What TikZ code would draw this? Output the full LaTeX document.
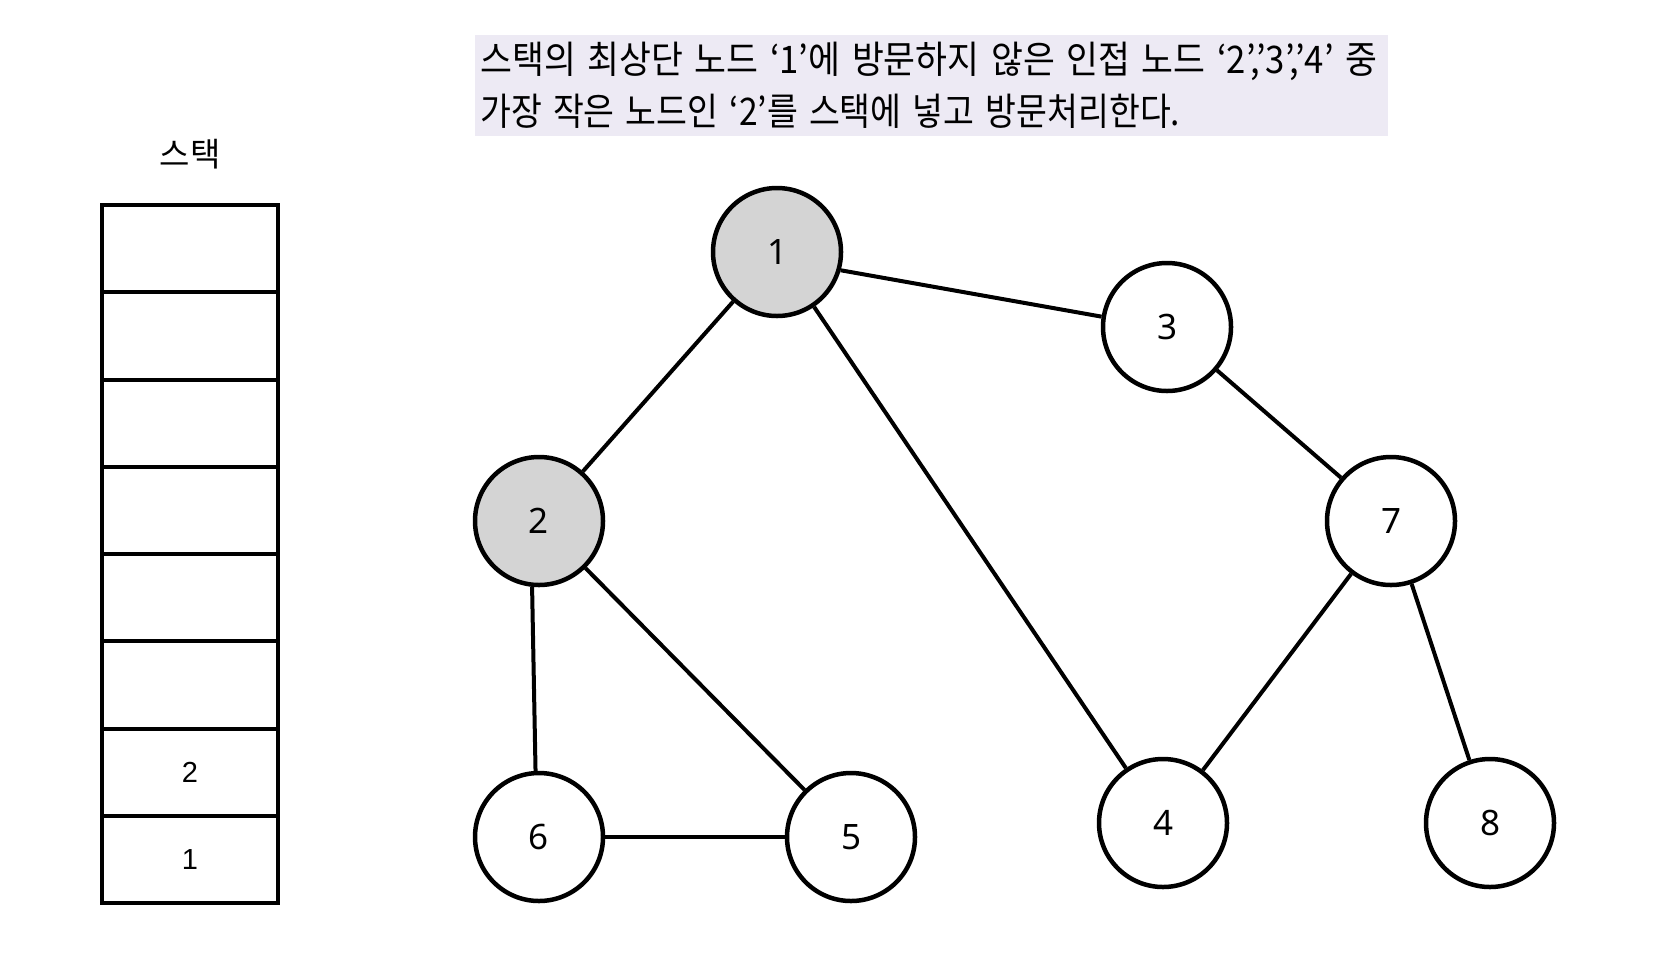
\documentclass[tikz,border=0pt]{standalone}
\usepackage{fontspec}
\setmainfont{Noto Sans}
\newfontfamily\kofont{Noto Sans CJK KR}
\newfontfamily\kowide[WordSpace=2]{Noto Sans CJK KR}
\newfontfamily\cellfont{Liberation Sans}
\usepackage{tikz}
\usetikzlibrary{positioning}
\definecolor{ink}{HTML}{000000}
\definecolor{visitfill}{HTML}{D4D4D4}
\definecolor{notefill}{HTML}{EDEAF4}
\newcommand{\noteline}[2]{\resizebox{#1}{\height}{#2}}
\tikzset{
  every node/.style={text=ink},
  vertex/.style={
    circle,
    draw=ink,
    fill=white,
    line width=4.5pt,
    minimum size=128pt,
    inner sep=0pt,
    font=\fontsize{35}{40}\selectfont
  },
  visited/.style={vertex, fill=visitfill},
  edge/.style={draw=ink, line width=4pt},
  stackcell/.style={
    draw=ink,
    line width=4pt,
    outer sep=0pt,
    minimum width=176pt,
    minimum height=87.25pt,
    inner sep=0pt,
    font=\cellfont\fontsize{29}{32}\selectfont
  },
  stacktitle/.style={font=\kofont\fontsize{33}{36}\selectfont},
  notebox/.style={
    fill=notefill,
    anchor=north west,
    align=left,
    text width=903pt,
    minimum height=101pt,
    inner xsep=5pt,
    inner ysep=0pt,
    font=\kowide\fontsize{38}{52}\selectfont
  },
}

\begin{document}
\begin{tikzpicture}[x=1pt, y=-1pt]
  \useasboundingbox (0,0) rectangle (1680,970);

  % =====================================================================
  % STACK
  % =====================================================================
  \node[stacktitle] (stacklabel) at (190, 154) {스택};
  \foreach \i/\val in {1/{},2/{},3/{},4/{},5/{},6/{},7/2,8/1}
    \node[stackcell] (cell\i) at (190, {205+87.25*(\i-0.5)}) {\val};

  % =====================================================================
  % NOTE
  % =====================================================================
  \node[notebox] (note) at (475, 35) {%
    \noteline{897pt}{스택의 최상단 노드 ‘1’에 방문하지 않은 인접 노드 ‘2’,’3’,’4’ 중}\\
    \noteline{700pt}{가장 작은 노드인 ‘2’를 스택에 넣고 방문처리한다.}
  };

  % =====================================================================
  % GRAPH
  % =====================================================================
  \node[visited] (n1) at (777, 252) {1};
  \node[visited] (n2) at (539, 521) {2};
  \node[vertex]  (n3) at (1167, 327) {3};
  \node[vertex]  (n7) at (1391, 521) {7};
  \node[vertex]  (n4) at (1163, 823) {4};
  \node[vertex]  (n8) at (1490, 823) {8};
  \node[vertex]  (n6) at (539, 837) {6};
  \node[vertex]  (n5) at (851, 837) {5};

  \draw[edge] (n1) -- (n2);
  \draw[edge] (n1.-16) -- (n3.171);
  \draw[edge] (n1) -- (n4);
  \draw[edge] (n2.264) -- (n6.93);
  \draw[edge] (n2) -- (n5);
  \draw[edge] (n6) -- (n5);
  \draw[edge] (n3) -- (n7);
  \draw[edge] (n7) -- (n4);
  \draw[edge] (n7) -- (n8);

\end{tikzpicture}
\end{document}
